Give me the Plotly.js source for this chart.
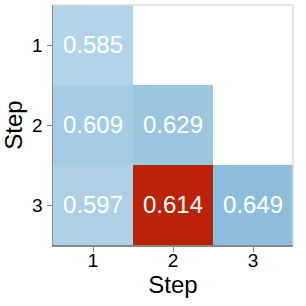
<!DOCTYPE html>
<html>
<head>
<meta charset="utf-8">
<script src="https://cdn.plot.ly/plotly-3.0.1.min.js"></script>
<style>html,body{margin:0;padding:0;background:#fff;}#chart{width:306px;height:306px;}</style>
</head>
<body>
<div id="chart"></div>
<script>
const xCats = [1, 2, 3];
const yCats = [1, 2, 3];
const zValues = [
  [0.585, null, null],
  [0.609, 0.629, null],
  [0.597, 0.614, 0.649]
];
const highlight = [
  [null, null, null],
  [null, null, null],
  [null, 0.614, null]
];
const textVals = zValues.map(r => r.map(v => v === null ? '' : v.toFixed(3)));
const fam = 'Liberation Sans';

const base = {
  type: 'heatmap', x: xCats, y: yCats, z: zValues,
  text: textVals, texttemplate: '%{text}',
  textfont: {family: fam, size: 24, color: '#ffffff'},
  colorscale: [[0, '#b3d5ea'], [0.2, '#aed1e7'], [0.4, '#a3cbe4'], [0.7, '#9ac6e0'], [1, '#8dbedd']],
  zmin: 0.585, zmax: 0.649, showscale: false, hoverongaps: false
};
const hl = {
  type: 'heatmap', x: xCats, y: yCats, z: highlight,
  text: highlight.map(r => r.map(v => v === null ? '' : v.toFixed(3))), texttemplate: '%{text}',
  textfont: {family: fam, size: 24, color: '#ffffff'},
  colorscale: [[0, '#bb2306'], [1, '#bb2306']], showscale: false, hoverongaps: false
};

const layout = {
  width: 306, height: 306,
  margin: {l: 53, r: 13, t: 5, b: 61},
  paper_bgcolor: '#fff', plot_bgcolor: '#fff',
  font: {family: fam, color: '#000'},
  xaxis: {
    type: 'category', tickvals: xCats, ticktext: xCats.map(String),
    showgrid: false, zeroline: false, showline: true, linecolor: '#888', linewidth: 1.5,
    ticks: 'outside', ticklen: 5, tickcolor: '#888', tickwidth: 1,
    ticklabelstandoff: -7,
    tickfont: {size: 19, family: fam, color: '#000'},
    title: {text: 'Step', font: {size: 24, family: fam, color: '#000'}, standoff: 5},
    range: [-0.5, 2.5]
  },
  yaxis: {
    type: 'category', tickvals: yCats, ticktext: yCats.map(String), autorange: 'reversed',
    showgrid: false, zeroline: false, showline: true, linecolor: '#888', linewidth: 1.5,
    ticks: 'outside', ticklen: 5, tickcolor: '#888', tickwidth: 1,
    tickfont: {size: 19, family: fam, color: '#000'},
    title: {text: 'Step', font: {size: 24, family: fam, color: '#000'}, standoff: 3.5}
  },
  shapes: [
    {type: 'line', xref: 'paper', yref: 'paper', x0: 0, x1: 1, y0: 1, y1: 1, line: {color: '#dcdcdc', width: 1.5}},
    {type: 'line', xref: 'paper', yref: 'paper', x0: 1, x1: 1, y0: 0, y1: 1, line: {color: '#dcdcdc', width: 1.5}}
  ]
};
Plotly.newPlot('chart', [base, hl], layout, {staticPlot: true, displayModeBar: false});
</script>
</body>
</html>
